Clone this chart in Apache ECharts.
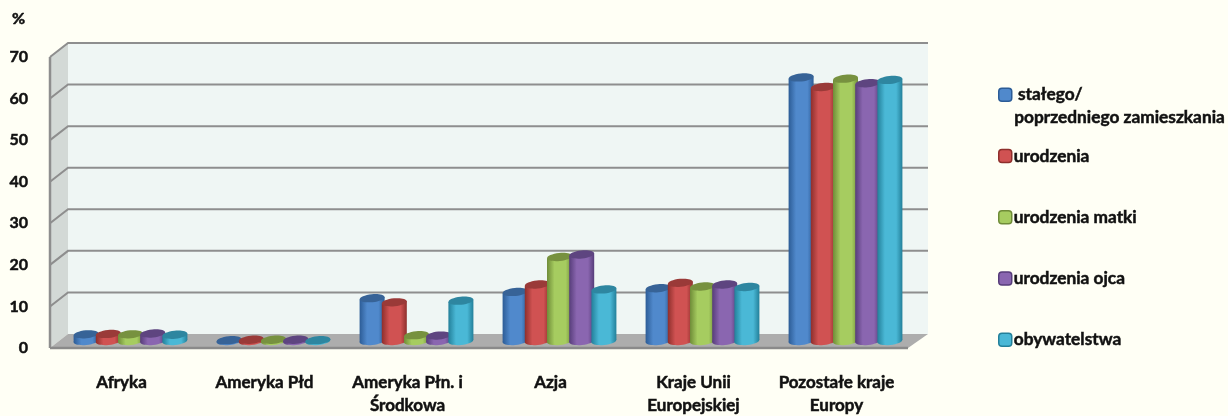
<!DOCTYPE html>
<html>
<head>
<meta charset="utf-8">
<title>Wykres</title>
<script src="https://cdn.jsdelivr.net/npm/echarts@6/dist/echarts.min.js"></script>
<style>
  html, body { margin: 0; padding: 0; background: #FFFFF5; }
  #chart { width: 1228px; height: 416px; }
</style>
</head>
<body>
<div id="chart"></div>
<script>
  const categories = ['Afryka', 'Ameryka Płd', 'Ameryka Płn. i\nŚrodkowa', 'Azja', 'Kraje Unii\nEuropejskiej', 'Pozostałe kraje\nEuropy'];
  const ticks = [0, 10, 20, 30, 40, 50, 60, 70];

  const stalego = [1.6, 0.2, 10.3, 11.8, 12.7, 63.4];
  const urodzenia = [1.7, 0.3, 9.3, 13.6, 14.0, 61.1];
  const urodzeniaMatki = [1.6, 0.3, 1.4, 20.2, 13.1, 63.1];
  const urodzeniaOjca = [1.8, 0.3, 1.3, 20.8, 13.6, 62.0];
  const obywatelstwa = [1.5, 0.2, 9.7, 12.4, 13.0, 62.8];

  const seriesNames = ['stałego/ poprzedniego zamieszkania', 'urodzenia', 'urodzenia matki', 'urodzenia ojca', 'obywatelstwa'];
  const seriesValues = [stalego, urodzenia, urodzeniaMatki, urodzeniaOjca, obywatelstwa];

  // kolory: [srodek, krawedz, gora walca]
  const palette = [
    ['#5089CC', '#2C5C96', '#376397'],
    ['#D05252', '#8E2F2C', '#9A3A38'],
    ['#A6CC60', '#6F8C38', '#77913F'],
    ['#8A66B0', '#573D7A', '#5E4580'],
    ['#4AB8D6', '#23809A', '#2E86A0']
  ];

  const depth = 18;      // przesuniecie sciany tylnej w prawo
  const rise = 14;       // i do gory
  const backExtra = 2;   // tylna sciana wystaje troche bardziej z prawej
  const barStep = 22.2;
  const barWidth = 25;
  const tilt = 0.1;

  // sciany, podloga i linie siatki
  function renderFrame(params, api) {
    const box = params.coordSys;
    const y = api.coord([0, api.value(1)])[1];
    const x0 = box.x, x1 = box.x + box.width;
    const xBack = x1 + depth + backExtra;
    const lineStyle = { stroke: '#8E8E8E', lineWidth: 2, fill: null };
    const children = [];
    if (api.value(1) === 0) {
      const top = box.y;
      children.push({
        type: 'polygon',
        shape: { points: [[x0 + depth, top - rise], [xBack, top - rise], [xBack, y - rise], [x0 + depth, y - rise]] },
        style: { fill: '#EFF6F4' }
      }, {
        type: 'polygon',
        shape: { points: [[x0, top], [x0 + depth, top - rise], [x0 + depth, y - rise], [x0, y]] },
        style: { fill: '#D3D9D6' }
      }, {
        type: 'polygon',
        shape: { points: [[x0, y], [x0 + depth, y - rise], [xBack, y - rise], [x1, y]] },
        style: { fill: '#ADADAD' }
      }, {
        type: 'line',
        shape: { x1: x0, y1: top, x2: x0, y2: y },
        style: { stroke: '#8E8E8E', lineWidth: 2.5 }
      }, {
        type: 'line',
        shape: { x1: x0, y1: y, x2: x1, y2: y },
        style: { stroke: '#8A8A8A', lineWidth: 2.5 }
      });
    } else {
      children.push({
        type: 'polyline',
        shape: { points: [[x0, y], [x0 + depth, y - rise], [xBack, y - rise]] },
        style: lineStyle
      });
    }
    return { type: 'group', children: children };
  }

  // walec dla jednej serii
  function makeCylinder(seriesIndex) {
    const colors = palette[seriesIndex];
    return function (params, api) {
      const cx = api.coord([api.value(0), 0])[0] + depth / 2 + (seriesIndex - 2) * barStep;
      const bottom = api.coord([api.value(0), 0])[1] - rise / 2;
      const top = api.coord([api.value(0), api.value(1)])[1] - rise / 2;
      const r = barWidth / 2;
      const dy = r * tilt;
      const fill = new echarts.graphic.LinearGradient(0, 0, 1, 0, [
        { offset: 0, color: colors[1] },
        { offset: 0.3, color: colors[0] },
        { offset: 0.75, color: colors[0] },
        { offset: 1, color: colors[1] }
      ]);
      return {
        type: 'group',
        children: [{
          type: 'ellipse',
          shape: { cx: 0, cy: 0, rx: r, ry: 4 },
          x: cx, y: bottom, rotation: tilt,
          style: { fill: fill }
        }, {
          type: 'polygon',
          shape: { points: [[cx - r, top + dy], [cx + r, top - dy], [cx + r, bottom - dy], [cx - r, bottom + dy]] },
          style: { fill: fill }
        }, {
          type: 'ellipse',
          shape: { cx: 0, cy: 0, rx: r, ry: 4 },
          x: cx, y: top, rotation: tilt,
          style: { fill: colors[2] }
        }]
      };
    };
  }

  // Lato bold jest chudszy od oryginalu, stad cienka obwodka
  const labelFont = { fontFamily: 'Lato', fontWeight: 'bold', color: '#111111', textBorderColor: '#111111', textBorderWidth: 0.5 };

  const series = [{
    type: 'custom',
    name: 'siatka',
    silent: true,
    clip: false,
    renderItem: renderFrame,
    encode: { x: 0, y: 1 },
    data: ticks.map(function (t) { return [0, t]; })
  }];
  seriesNames.forEach(function (name, i) {
    series.push({
      type: 'custom',
      name: name,
      clip: false,
      renderItem: makeCylinder(i),
      encode: { x: 0, y: 1 },
      itemStyle: { color: palette[i][0] },
      data: seriesValues[i].map(function (v, k) { return [k, v]; })
    });
  });

  const myChart = echarts.init(document.getElementById('chart'));
  myChart.setOption({
    animation: false,
    backgroundColor: '#FFFFF5',
    grid: { left: 50, right: 320, top: 57, bottom: 68, outerBoundsMode: 'none' },
    xAxis: {
      type: 'category',
      data: categories,
      axisLine: { show: false },
      axisTick: { show: false },
      splitLine: { show: false },
      axisLabel: Object.assign({ interval: 0, margin: 23, fontSize: 17, lineHeight: 23 }, labelFont)
    },
    yAxis: {
      type: 'value',
      min: 0,
      max: 70,
      interval: 10,
      name: '%',
      nameGap: 30,
      nameTextStyle: Object.assign({ fontSize: 16, align: 'right', padding: [0, 25, 0, 0] }, labelFont),
      axisLine: { show: false },
      axisTick: { show: false },
      splitLine: { show: false },
      axisLabel: Object.assign({ margin: 22, fontSize: 16, padding: [5, 0, 0, 0] }, labelFont)
    },
    legend: {
      orient: 'vertical',
      left: 998,
      top: 86,
      padding: 0,
      itemGap: 43.75,
      itemWidth: 13,
      itemHeight: 13,
      icon: 'roundRect',
      selectedMode: false,
      formatter: function (name) {
        return name.indexOf('stałego') === 0 ? ' stałego/' : name;
      },
      textStyle: Object.assign({ fontSize: 17.3, padding: [0, 0, 0, -3] }, labelFont),
      data: seriesNames.map(function (name, i) {
        return { name: name, itemStyle: { color: palette[i][0], borderColor: palette[i][1], borderWidth: 1.5 } };
      })
    },
    graphic: [{
      type: 'text',
      left: 1014,
      top: 109,
      style: { text: 'poprzedniego zamieszkania', font: 'bold 17.3px Lato', fill: '#111111', stroke: '#111111', lineWidth: 0.5 }
    }],
    series: series
  });
  window.addEventListener('resize', myChart.resize);
</script>
</body>
</html>
